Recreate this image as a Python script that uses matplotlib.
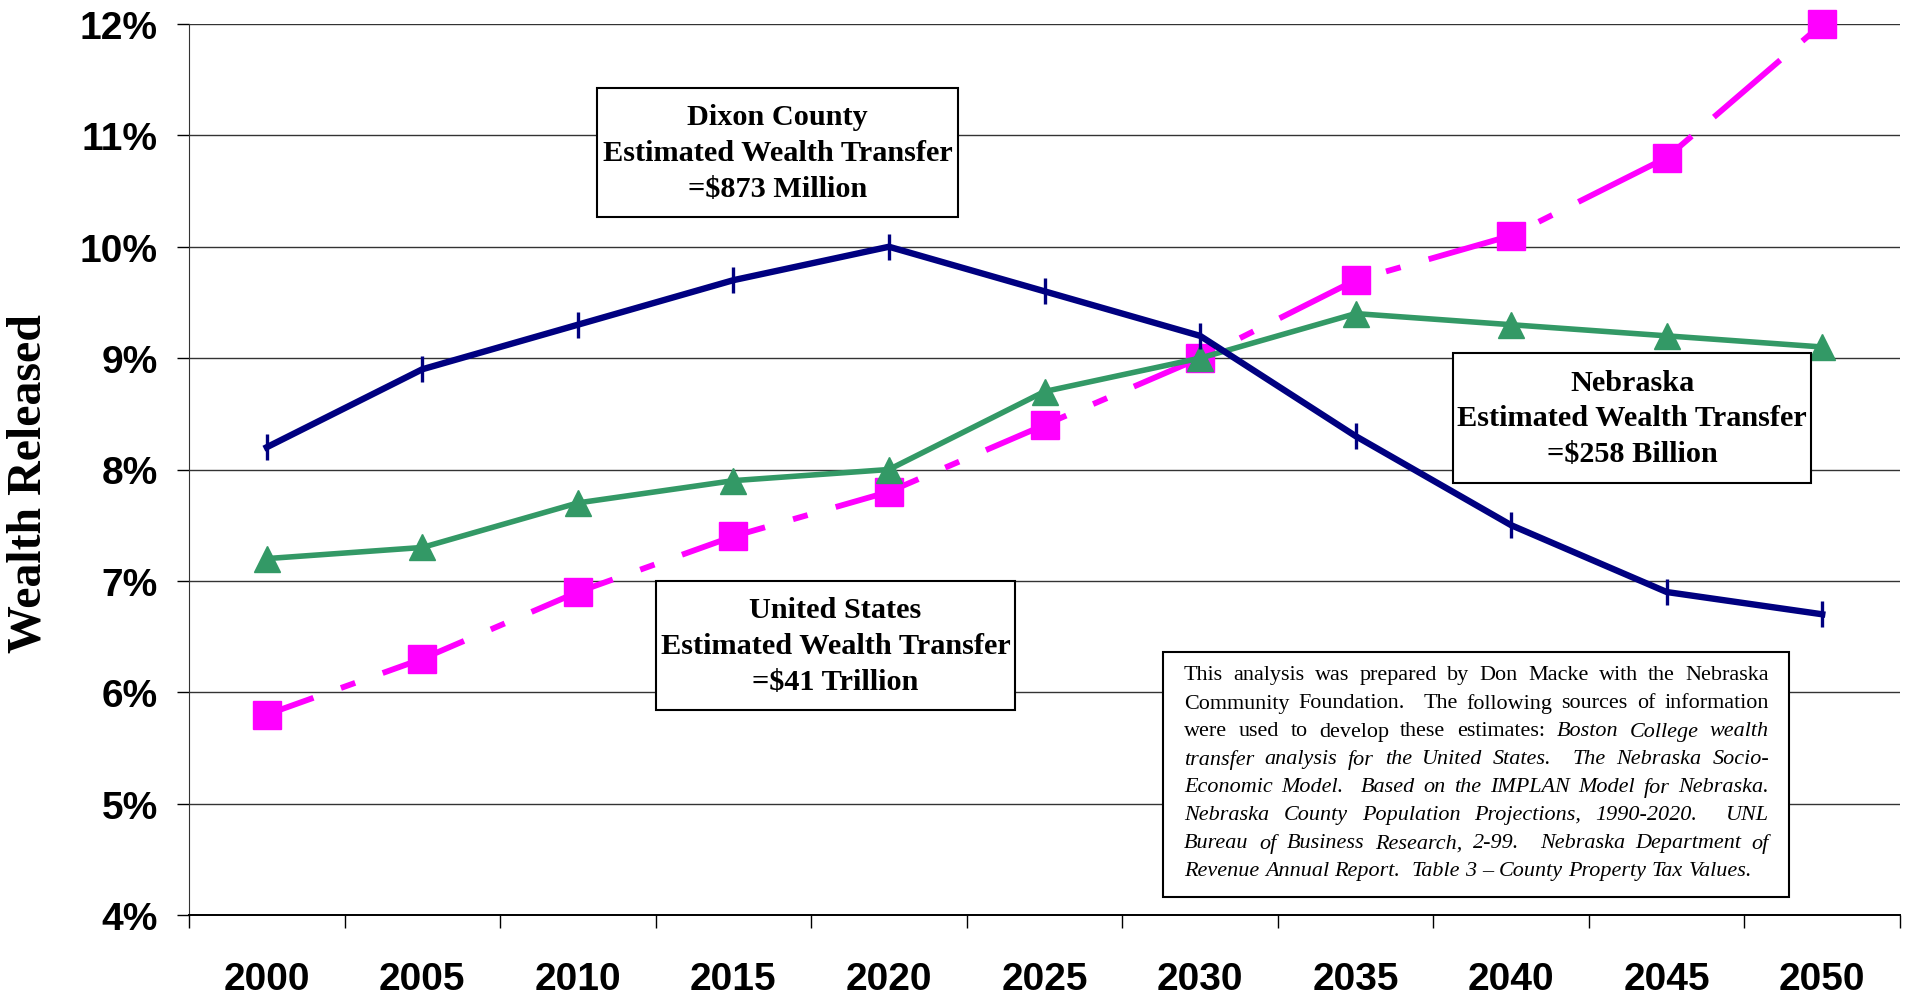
import re
import numpy as np
import matplotlib
matplotlib.use("Agg")
import matplotlib.pyplot as plt
from matplotlib.patches import Rectangle

# Data (percent of wealth released)
years = ["2000", "2005", "2010", "2015", "2020", "2025", "2030", "2035", "2040", "2045", "2050"]
dixon = [8.2, 8.9, 9.3, 9.7, 10.0, 9.6, 9.2, 8.3, 7.5, 6.9, 6.7]
nebraska = [7.2, 7.3, 7.7, 7.9, 8.0, 8.7, 9.0, 9.4, 9.3, 9.2, 9.1]
united_states = [5.8, 6.3, 6.9, 7.4, 7.8, 8.4, 9.0, 9.7, 10.1, 10.8, 12.0]
y_ticks = [4, 5, 6, 7, 8, 9, 10, 11, 12]

box_dixon = "Dixon County\nEstimated Wealth Transfer\n=$873 Million"
box_nebraska = "Nebraska\nEstimated Wealth Transfer\n=$258 Billion"
box_us = "United States\nEstimated Wealth Transfer\n=$41 Trillion"

# (text, italic) segments per line of the note
notes_lines = [
    [("This analysis was prepared by Don Macke with the Nebraska", False)],
    [("Community Foundation.  The following sources of information", False)],
    [("were used to develop these estimates:", False), (" Boston College wealth", True)],
    [("transfer analysis for the United States.  The Nebraska Socio-", True)],
    [("Economic Model.  Based on the IMPLAN Model for Nebraska.", True)],
    [("Nebraska County Population Projections, 1990-2020.  UNL", True)],
    [("Bureau of Business Research, 2-99.  Nebraska Department of", True)],
    [("Revenue Annual Report.  Table 3 \u2013 County Property Tax Values.", True)],
]

W, H = 1910, 995
fig = plt.figure(figsize=(W / 100, H / 100), dpi=100)
ax = fig.add_axes([189 / W, 1 - 916 / H, (1900 - 189) / W, (916 - 25) / H])

x = np.arange(len(years))
ax.plot(x, united_states, color="#FF00FF", lw=4.2, ls=(6.5, (15, 5, 2.6, 5)),
        marker="s", ms=19.5, zorder=3, clip_on=False)
ax.plot(x, nebraska, color="#339966", lw=4, marker="^", ms=19, zorder=4, clip_on=False)
ax.plot(x, dixon, color="#000080", lw=4.6, marker="|", ms=19, mew=2.4, zorder=5,
        clip_on=False)

ax.set_xlim(-0.5, len(years) - 0.5)
ax.set_ylim(4, 12)
ax.set_xticks(x, years)
ax.set_xticks(np.arange(-0.5, len(years)), minor=True)
ax.set_yticks(y_ticks, [f"{v}%" for v in y_ticks])
ax.tick_params(axis="x", which="major", length=0, pad=33)
ax.tick_params(axis="x", which="minor", length=9.4, width=1)
ax.tick_params(axis="y", length=8.6, width=1, pad=14)
for lab in ax.get_xticklabels() + ax.get_yticklabels():
    lab.set_fontfamily("Liberation Sans")
    lab.set_fontweight("bold")
    lab.set_fontsize(28)
ax.grid(axis="y", color="#333333", lw=1)
ax.set_axisbelow(True)
for s in ["top", "right"]:
    ax.spines[s].set_visible(False)
ax.spines["left"].set_color("#333333")
ax.spines["bottom"].set_linewidth(1.4)

fig.text(29 / W, 1 - 484 / H, "Wealth Released", rotation=90, ha="center", va="center",
         family="Liberation Serif", weight="bold", fontsize=34.5)


def draw_box(x0, y0, x1, y1, lw=1.5):
    fig.patches.append(Rectangle((x0 / W, 1 - y1 / H), (x1 - x0) / W, (y1 - y0) / H,
                                 transform=fig.transFigure, facecolor="white",
                                 edgecolor="black", lw=lw, zorder=5))


def label_box(x0, y0, x1, y1, text):
    draw_box(x0, y0, x1, y1)
    fig.text((x0 + x1) / 2 / W, 1 - (y0 + y1) / 2 / H, text, ha="center", va="center",
             family="Liberation Serif", weight="bold", fontsize=21.8, linespacing=1.42,
             zorder=6)


label_box(597, 89, 958, 218, box_dixon)
label_box(1453, 354, 1811, 484, box_nebraska)
label_box(656, 582, 1015, 711, box_us)

# justified note box
draw_box(1163, 653, 1789, 898)
renderer = fig.canvas.get_renderer()
left, right = 1184, 1769
first_y, step = 676, 28
note_size = 15.9
for i, line in enumerate(notes_lines):
    tokens = []  # (word, italic, spaces before)
    for seg, italic in line:
        spaces = 0
        for part in re.split(r"( +)", seg):
            if part == "":
                continue
            if part.startswith(" "):
                spaces += len(part)
            else:
                tokens.append([part, italic, spaces if tokens else 0])
                spaces = 0
    texts = []
    for word, italic, _ in tokens:
        t = fig.text(0, 1 - (first_y + i * step) / H, word, ha="left", va="center",
                     family="Liberation Serif", style="italic" if italic else "normal",
                     fontsize=note_size, zorder=6)
        texts.append(t)
    widths = [t.get_window_extent(renderer).width for t in texts]
    units = sum(tok[2] for tok in tokens)
    if i < len(notes_lines) - 1:
        unit = (right - left - sum(widths)) / units
    else:
        unit = note_size * 100 / 72 * 0.25
    pos = left
    for t, tok, w in zip(texts, tokens, widths):
        pos += tok[2] * unit
        t.set_x(pos / W)
        pos += w

fig.savefig("out.png", dpi=100)
